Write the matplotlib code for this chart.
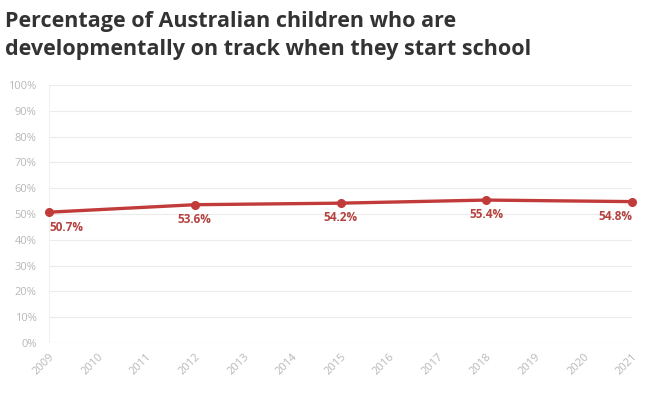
import matplotlib
matplotlib.use("Agg")
import matplotlib.pyplot as plt

years = list(range(2009, 2022))
data_years = [2009, 2012, 2015, 2018, 2021]
values = [50.7, 53.6, 54.2, 55.4, 54.8]
labels = ["50.7%", "53.6%", "54.2%", "55.4%", "54.8%"]
yticks = list(range(0, 101, 10))

plt.rcParams['font.family'] = ['Open Sans', 'DejaVu Sans']

fig = plt.figure(figsize=(6.57, 3.93), dpi=100)
ax = fig.add_axes([49/657, 1-343/393, (632-49)/657, (343-85)/393])

line_color = '#c23b3b'
ax.plot(data_years, values, color=line_color, lw=2.4, marker='o', ms=5.5, zorder=3, clip_on=False)

for i, (x, v, t) in enumerate(zip(data_years, values, labels)):
    ha = 'center'
    if i == 0:
        ha = 'left'
    elif i == len(values) - 1:
        ha = 'right'
    ax.annotate(t, (x, v), xytext=(0, -6), textcoords='offset points', ha=ha, va='top',
                fontsize=8.5, fontweight='bold', color='#b4423f')

ax.set_xlim(2009, 2021)
ax.set_ylim(0, 100)
ax.set_yticks(yticks)
ax.set_yticklabels([f"{v}%" for v in yticks])
ax.set_xticks(years)
ax.set_xticklabels([str(y) for y in years], rotation=45, ha='right', rotation_mode='anchor')
ax.tick_params(axis='both', length=0, labelsize=8, labelcolor='#b8b8b8')
ax.tick_params(axis='y', pad=9)
ax.tick_params(axis='x', pad=6)
for s in ax.spines.values():
    s.set_visible(False)
ax.grid(axis='y', color='#ececec', lw=0.8)
ax.axvline(2009, color='#f0f0f0', lw=0.8, zorder=0)
ax.axhline(0, color='#e4e4e4', lw=0.8, zorder=1)

fig.text(5/657, 1-27/393, "Percentage of Australian children who are", fontsize=15.5, fontweight='bold', color='#333333', va='baseline')
fig.text(5/657, 1-55/393, "developmentally on track when they start school", fontsize=15.5, fontweight='bold', color='#333333', va='baseline')

fig.savefig("out.png", dpi=100)
